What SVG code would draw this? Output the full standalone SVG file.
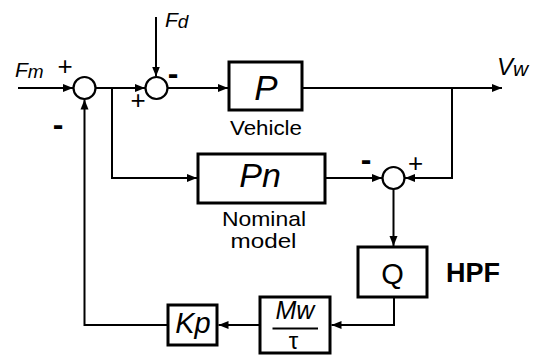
<svg xmlns="http://www.w3.org/2000/svg" width="539" height="355" viewBox="0 0 539 355">
<style>
.ln{fill:none;stroke:#000;stroke-width:2}
.bx{fill:#fff;stroke:#000;stroke-width:3}
.cr{fill:#fff;stroke:#000;stroke-width:2.2}
.t{font-family:"Liberation Sans",Arial,sans-serif;fill:#000}
.i{font-style:italic}
.m{text-anchor:middle}
.sg{font-family:"Liberation Sans",Arial,sans-serif;fill:#000;font-size:26px}
.mn{font-family:"Liberation Sans",Arial,sans-serif;fill:#000;font-size:32px;font-weight:bold}
</style>
<defs>
<marker id="ah" markerUnits="userSpaceOnUse" markerWidth="12" markerHeight="10" refX="10" refY="5" orient="auto">
<path d="M0,1 L10,5 L0,9 Z" fill="#000"/>
</marker>
</defs>
<g id="connectors">
<line class="ln" x1="18" y1="88" x2="73" y2="88" marker-end="url(#ah)"/>
<line class="ln" x1="95.5" y1="88" x2="145" y2="88" marker-end="url(#ah)"/>
<line class="ln" x1="156" y1="17" x2="156" y2="76.5" marker-end="url(#ah)"/>
<line class="ln" x1="167.5" y1="88" x2="228" y2="88" marker-end="url(#ah)"/>
<polyline class="ln" points="112,88 112,178 197,178" marker-end="url(#ah)"/>
<line class="ln" x1="302" y1="88" x2="502" y2="88" marker-end="url(#ah)"/>
<polyline class="ln" points="452,88 452,178 405,178" marker-end="url(#ah)"/>
<line class="ln" x1="325" y1="178" x2="382" y2="178" marker-end="url(#ah)"/>
<line class="ln" x1="393.5" y1="189" x2="393.5" y2="246" marker-end="url(#ah)"/>
<polyline class="ln" points="394,297 394,325 331.5,325" marker-end="url(#ah)"/>
<line class="ln" x1="260" y1="325" x2="218.5" y2="325" marker-end="url(#ah)"/>
<polyline class="ln" points="168,325 84.5,325 84.5,99.5" marker-end="url(#ah)"/>
</g>
<g id="sum1"><circle class="cr" cx="84.5" cy="88" r="11"/></g>
<g id="sum2"><circle class="cr" cx="156.5" cy="88" r="11"/></g>
<g id="sum3"><circle class="cr" cx="393.5" cy="178" r="11"/></g>
<g id="signs">
<text class="sg m" x="65" y="75">+</text>
<text class="mn m" x="58" y="135">-</text>
<text class="mn m" x="173" y="84">-</text>
<text class="sg m" x="138" y="109">+</text>
<text class="mn m" x="366" y="170">-</text>
<text class="sg m" x="415.5" y="171.5">+</text>
</g>
<g id="P">
<rect class="bx" x="229" y="62" width="73" height="48"/>
<text class="t i m" x="266" y="100" font-size="35">P</text>
<text class="t m" x="266" y="135" font-size="21" textLength="72" lengthAdjust="spacingAndGlyphs">Vehicle</text>
</g>
<g id="Pn">
<rect class="bx" x="198" y="154" width="127" height="49"/>
<text class="t i m" x="260" y="187" font-size="34">Pn</text>
<text class="t m" x="264" y="226" font-size="21" textLength="84" lengthAdjust="spacingAndGlyphs">Nominal</text>
<text class="t m" x="263.5" y="248" font-size="21" textLength="66" lengthAdjust="spacingAndGlyphs">model</text>
</g>
<g id="Q">
<rect class="bx" x="358" y="247" width="69" height="50"/>
<text class="t m" x="392.5" y="284" font-size="29">Q</text>
<text class="t" x="446" y="282" font-size="27" font-weight="bold">HPF</text>
</g>
<g id="Mw">
<rect class="bx" x="260" y="297" width="70" height="56"/>
<text class="t i m" x="295" y="319" font-size="25">Mw</text>
<line x1="272.5" y1="328.5" x2="318" y2="328.5" stroke="#000" stroke-width="2"/>
<text class="t m" x="293.5" y="349" font-size="24">τ</text>
</g>
<g id="Kp">
<rect class="bx" x="168" y="305" width="49" height="40"/>
<text class="t i m" x="193" y="333" font-size="29">Kp</text>
</g>
<g id="labels">
<text class="t i" x="15" y="77" font-size="21">F<tspan font-size="19" dy="1">m</tspan></text>
<text class="t i" x="165" y="27" font-size="21">F<tspan font-size="19" dy="1">d</tspan></text>
<text class="t i" x="497" y="75" font-size="24">V<tspan font-size="21" dy="1">w</tspan></text>
</g>
</svg>
